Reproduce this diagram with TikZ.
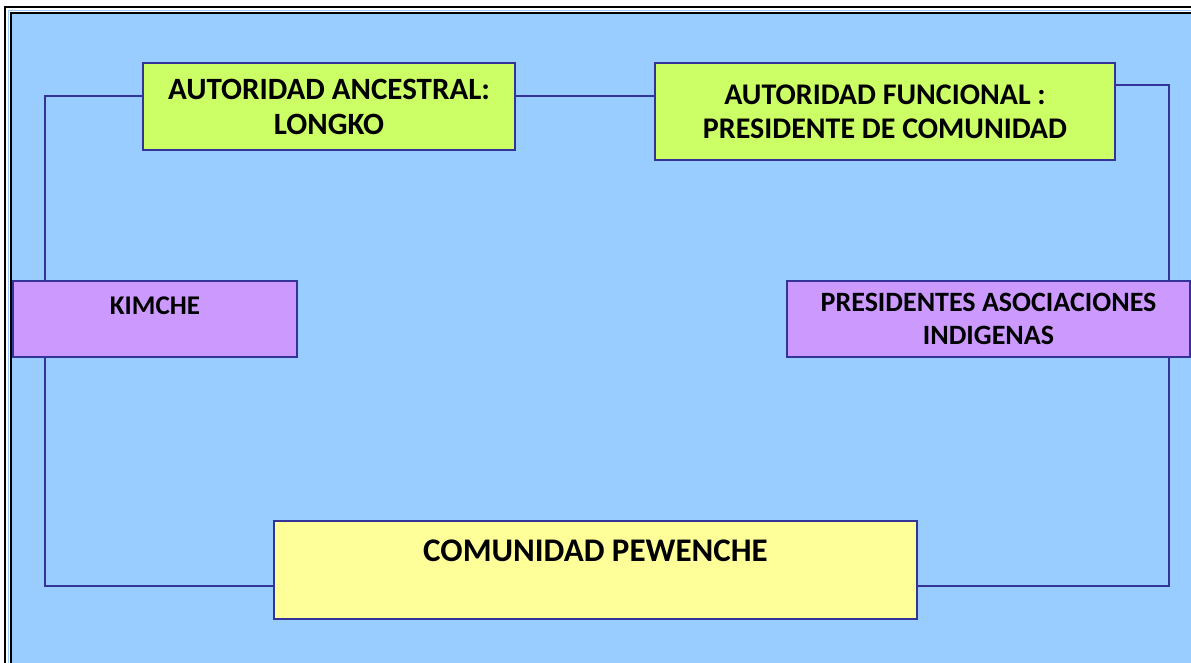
\documentclass[tikz,border=0pt]{standalone}
\usepackage{fontspec}
\setmainfont{Carlito}
\usepackage{xcolor}
\usepackage{tikz}

\definecolor{skyfill}{HTML}{99CCFF}
\definecolor{linkblue}{HTML}{333399}
\definecolor{limefill}{HTML}{CCFF66}
\definecolor{lilacfill}{HTML}{CC99FF}
\definecolor{creamfill}{HTML}{FFFF99}

\begin{document}
\begin{tikzpicture}[x=1pt,y=-1pt,
    box/.style={draw=linkblue, line width=1.8pt, inner sep=0pt, align=center,
      font=\bfseries\fontsize{27}{34}\selectfont},
    link/.style={draw=linkblue, line width=1.5pt}]
        \useasboundingbox (0,0) rectangle (1191,662);
        \fill[white] (0,0) rectangle (1191,662);

        % double frame
        \begin{scope}
        \clip (0,0) rectangle (1191,662);
        \draw[black, line width=2.5pt] (5,7) rectangle (1220,700);
        \draw[skyfill, line width=1pt] (8.5,10.5) rectangle (1220,700);
        \fill[skyfill] (11,13) rectangle (1220,700);
        \draw[black, line width=2pt] (10.5,12.5) rectangle (1220,700);
        \end{scope}

        % authorities
        \node[box, fill=limefill, minimum width=372pt, minimum height=87pt,
            font=\bfseries\fontsize{31}{35}\selectfont]
            (longko) at (329,106.5) {AUTORIDAD ANCESTRAL:\\ LONGKO};
        \node[box, fill=limefill, minimum width=460pt, minimum height=97pt,
            font=\bfseries\fontsize{30}{34}\selectfont]
            (funcional) at (885,111.5) {AUTORIDAD FUNCIONAL :\\ PRESIDENTE DE COMUNIDAD};

        % middle row
        \node[box, fill=lilacfill, minimum width=284pt, text height=33pt, text depth=43pt]
            (kimche) at (155,319) {KIMCHE};
        \node[box, fill=lilacfill, minimum width=403pt, minimum height=76pt,
            font=\bfseries\fontsize{28}{33}\selectfont]
            (presid) at (988.5,319) {PRESIDENTES ASOCIACIONES\\ INDIGENAS};

        % community
        \node[box, fill=creamfill, minimum width=643pt, text height=40pt, text depth=58pt,
            font=\bfseries\fontsize{33}{38}\selectfont]
            (comunidad) at (595.5,570) {COMUNIDAD PEWENCHE};

        % connectors
        \coordinate (lt) at (45,96);
        \coordinate (lb) at (45,586);
        \coordinate (rb) at (1169,586);
        \coordinate (rt) at (1169,85);
        \draw[link] (longko.west |- lt) -- (lt) -- (lt |- kimche.north);
        \draw[link] (lt |- kimche.south) -- (lb) -- (comunidad.west |- lb);
        \draw[link] (comunidad.east |- rb) -- (rb) -- (rb |- presid.south);
        \draw[link] (rb |- presid.north) -- (rt) -- (funcional.east |- rt);
        \draw[link] (longko.east |- lt) -- (funcional.west |- lt);
    \end{tikzpicture}
\end{document}
